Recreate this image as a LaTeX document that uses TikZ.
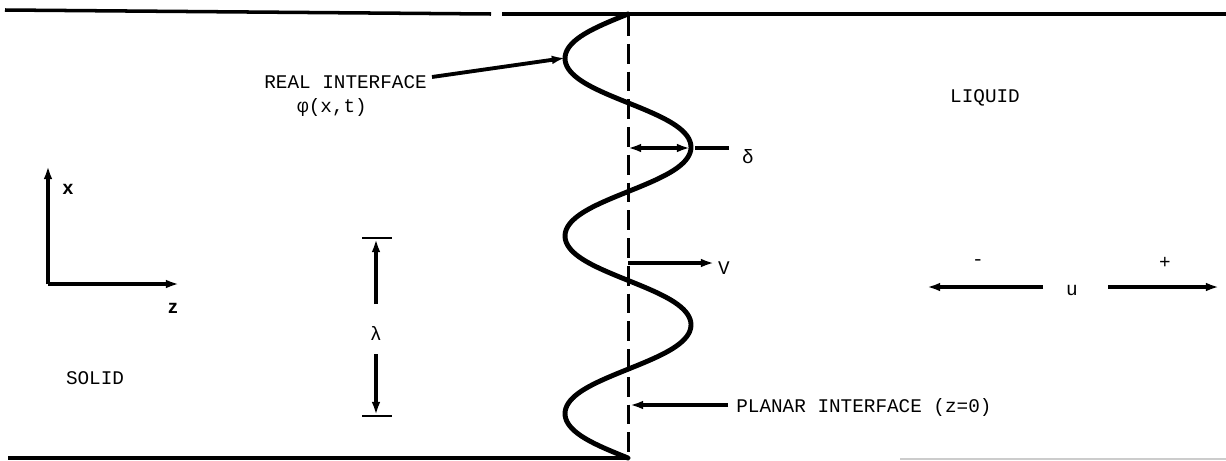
\documentclass[tikz,border=0pt]{standalone}
\usepackage{fontspec}
\setmonofont{Liberation Mono}
\setsansfont{Liberation Sans}
\usetikzlibrary{arrows.meta}
\begin{document}
\begin{tikzpicture}[x=0.02cm,y=-0.02cm,
  lbl/.style={font=\ttfamily\fontsize{11}{13}\selectfont, inner sep=0pt},
  axlbl/.style={font=\sffamily\bfseries\fontsize{11}{13}\selectfont, inner sep=0pt},
  arr/.style={line width=2.2pt, -{Latex[length=7.5pt,width=5pt]}},
  darr/.style={line width=2.2pt, {Latex[length=7.5pt,width=5pt]}-{Latex[length=7.5pt,width=5pt]}},
  plainline/.style={line width=2.2pt},
  wall/.style={line width=2pt},
  wave/.style={line width=2.8pt, line join=round, line cap=round},
  planar/.style={line width=1.7pt, dash pattern=on 11.3pt off 4.5pt},
  tick/.style={line width=1.6pt},
]
\useasboundingbox (0,0) rectangle (1226,460);

% top and bottom boundaries
\coordinate (tl) at (5,10);
\coordinate (tm) at (491,14);
\coordinate (tm2) at (502,14);
\coordinate (tr) at (1226,14);
\draw[wall] (tl) -- (tm);
\draw[wall] (tm2) -- (tr);
\coordinate (bl) at (8,458);
\coordinate (bm) at (628,458);
\coordinate (bf) at (900,459);
\coordinate (br) at (1226,459);
\draw[wall] (bl) -- (bm);
\draw[line width=1.2pt, black!20] (bf) -- (br);

% planar interface (dashed)
\coordinate (ptop) at (628,16);
\coordinate (pbot) at (628,460);
\draw[planar] (ptop) -- (pbot);

% real interface (wave)
\draw[wave] plot[smooth, domain=14:458, samples=180]
  ({628 - 70*(sin((\x-14)*2.02703) - 0.1*pow(sin((\x-14)*2.02703),3))}, \x);

% REAL INTERFACE label
\node[lbl, anchor=west] (real) at (264,82) {REAL INTERFACE};
\node[lbl] (phi) at (332,107) {φ(x,t)};
\coordinate (realstart) at (432,77);
\coordinate (realtip) at (565,58);
\draw[arr] (realstart) -- (realtip);

% delta
\coordinate (dl) at (628,148);
\coordinate (dr) at (690,148);
\coordinate (ds) at (695,148);
\coordinate (de) at (729,148);
\draw[darr] (dl) -- (dr);
\draw[plainline] (ds) -- (de);
\node[lbl] (delta) at (748,157) {δ};

% V
\coordinate (vs) at (628,263);
\coordinate (ve) at (714,263);
\draw[arr] (vs) -- (ve);
\node[lbl] (vlbl) at (724,268) {V};

% planar interface label
\coordinate (ps) at (728,405);
\coordinate (pe) at (630,405);
\draw[arr] (ps) -- (pe);
\node[lbl, anchor=west] (plab) at (736,407) {PLANAR INTERFACE (z=0)};

% lambda
\coordinate (lt1) at (362,238);
\coordinate (lt2) at (392,238);
\coordinate (lb1) at (362,416);
\coordinate (lb2) at (392,416);
\draw[tick] (lt1) -- (lt2);
\draw[tick] (lb1) -- (lb2);
\node[lbl] (lam) at (376,333) {λ};
\coordinate (la1) at (376,304);
\coordinate (la2) at (376,239);
\coordinate (lb3) at (376,354);
\coordinate (lb4) at (376,415);
\draw[arr] (la1) -- (la2);
\draw[arr] (lb3) -- (lb4);

% axes
\coordinate (o) at (48,284);
\coordinate (xa) at (48,166);
\coordinate (za) at (179,284);
\draw[arr] (o) -- (xa);
\draw[arr] (o) -- (za);
\node[axlbl] (xl) at (68,189) {x};
\node[axlbl] (zl) at (173,308) {z};

% solid / liquid
\node[lbl] (solid) at (95,378) {SOLID};
\node[lbl] (liquid) at (985,98) {LIQUID};

% u arrows
\node[lbl] (ulbl) at (1072,290) {u};
\node[lbl] (minus) at (978,263) {-};
\node[lbl] (plus) at (1165,263) {+};
\coordinate (ul1) at (1043,287);
\coordinate (ul2) at (927,287);
\coordinate (ur1) at (1108,287);
\coordinate (ur2) at (1219,287);
\draw[arr] (ul1) -- (ul2);
\draw[arr] (ur1) -- (ur2);
\end{tikzpicture}
\end{document}
